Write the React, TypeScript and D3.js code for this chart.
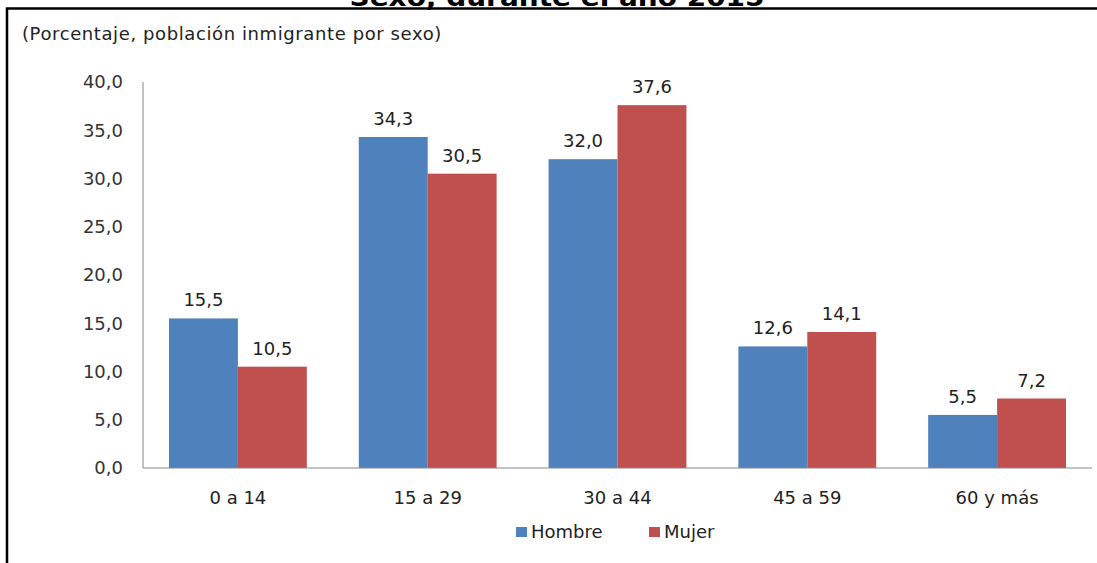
import React from "react";
import * as d3 from "d3";

const categories = ["0 a 14", "15 a 29", "30 a 44", "45 a 59", "60 y más"];
const hombre = [15.5, 34.3, 32.0, 12.6, 5.5];
const mujer = [10.5, 30.5, 37.6, 14.1, 7.2];
const seriesNames = ["Hombre", "Mujer"];
const yTicks = [0, 5, 10, 15, 20, 25, 30, 35, 40];

const W = 1097;
const H = 563;
const colors = ["#4F81BD", "#C0504D"];
const font = "'DejaVu Sans', Verdana, sans-serif";

export default function App() {
  const x0 = d3.scaleBand<string>().domain(categories).range([143, 1092]).paddingInner(0).paddingOuter(0);
  const x1 = d3.scaleBand<string>().domain(seriesNames).range([0, x0.bandwidth()]).paddingInner(0).paddingOuter(0.377);
  const y = d3.scaleLinear().domain([0, 40]).range([468, 82]);
  const fmt = (v: number) => d3.format(".1f")(v).replace(".", ",");
  const series = [hombre, mujer];

  return (
    <svg width={W} height={H} style={{ position: "absolute", left: 0, top: 0, background: "#fff" }} fontFamily={font}>
      <rect x={0} y={0} width={W} height={H} fill="#fff" />
      <text x={557} y={6} textAnchor="middle" fontSize={24} fontWeight="bold" fill="#000" textLength={415} lengthAdjust="spacingAndGlyphs">
        Sexo, durante el año 2015
      </text>
      <rect x={7} y={8.5} width={W + 20} height={H + 20} fill="none" stroke="#000" strokeWidth={2.5} />
      <text x={22} y={40} fontSize={18} fill="#222" letterSpacing={0.6}>(Porcentaje, población inmigrante por sexo)</text>

      {yTicks.map((t) => (
        <text key={t} x={123} y={y(t)} dy="0.35em" textAnchor="end" fontSize={18} fill="#333">
          {fmt(t)}
        </text>
      ))}

      {categories.map((c, i) => (
        <g key={c} transform={`translate(${x0(c)},0)`}>
          {series.map((s, j) => {
            const bx = x1(seriesNames[j])!;
            const bw = x1.bandwidth();
            return (
              <g key={j}>
                <rect x={bx} y={y(s[i])} width={bw} height={y(0) - y(s[i])} fill={colors[j]} />
                <text x={bx + bw / 2} y={y(s[i]) - 12} textAnchor="middle" fontSize={18} fill="#222">
                  {fmt(s[i])}
                </text>
              </g>
            );
          })}
          <text x={x0.bandwidth() / 2} y={504} textAnchor="middle" fontSize={18} fill="#222">
            {c}
          </text>
        </g>
      ))}

      <line x1={143} x2={143} y1={82} y2={468} stroke="#888" strokeWidth={1} />
      <line x1={143} x2={1092} y1={468} y2={468} stroke="#888" strokeWidth={1} />

      <g>
        <rect x={516} y={527} width={11} height={10} fill={colors[0]} />
        <text x={531} y={538} fontSize={18} fill="#222">Hombre</text>
        <rect x={649} y={527} width={11} height={10} fill={colors[1]} />
        <text x={664} y={538} fontSize={18} fill="#222">Mujer</text>
      </g>
    </svg>
  );
}
